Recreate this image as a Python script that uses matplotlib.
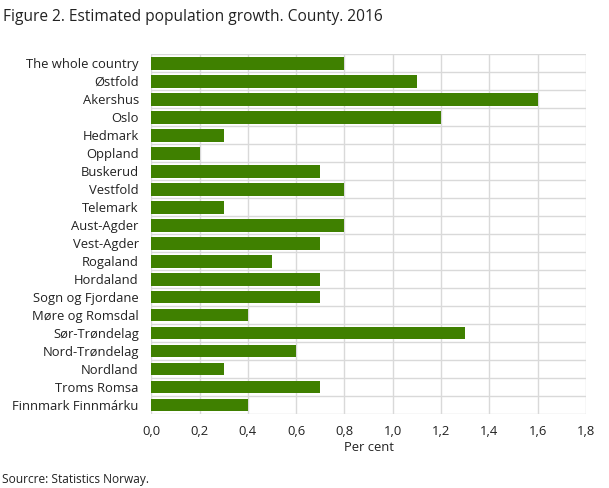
import matplotlib.pyplot as plt
import numpy as np

plt.rcParams['font.family'] = ['Open Sans', 'DejaVu Sans']

counties = ['The whole country', 'Østfold', 'Akershus', 'Oslo', 'Hedmark', 'Oppland',
            'Buskerud', 'Vestfold', 'Telemark', 'Aust-Agder', 'Vest-Agder', 'Rogaland',
            'Hordaland', 'Sogn og Fjordane', 'Møre og Romsdal', 'Sør-Trøndelag',
            'Nord-Trøndelag', 'Nordland', 'Troms Romsa', 'Finnmark Finnmárku']
growth = [0.8, 1.1, 1.6, 1.2, 0.3, 0.2, 0.7, 0.8, 0.3, 0.8, 0.7, 0.5,
          0.7, 0.7, 0.4, 1.3, 0.6, 0.3, 0.7, 0.4]
xticks = [0, 0.2, 0.4, 0.6, 0.8, 1.0, 1.2, 1.4, 1.6, 1.8]

fig = plt.figure(figsize=(6.09, 4.88), dpi=100)
ax = fig.add_axes([0.2484, 0.1516, 0.7138, 0.7377])

y = np.arange(len(counties))
ax.barh(y, growth, height=0.72, color='#3f8000', zorder=3)

ax.set_ylim(len(counties) - 0.5, -0.5)
ax.set_xlim(0, 1.8)
ax.set_yticks(y)
ax.set_yticklabels(counties, fontsize=9.4, color='#222222')
ax.set_yticks(np.arange(-0.5, len(counties), 1), minor=True)
ax.set_xticks(xticks)
ax.set_xticklabels([f'{v:.1f}'.replace('.', ',') for v in xticks], fontsize=9.4, color='#222222')
ax.tick_params(axis='y', which='both', length=0, pad=9)
ax.tick_params(axis='x', length=0, pad=8)

ax.grid(axis='x', color='#d9d9d9', linewidth=1, zorder=0)
ax.grid(axis='y', which='minor', color='#d9d9d9', linewidth=1, zorder=0)
for s in ax.spines.values():
    s.set_visible(False)

ax.set_xlabel('Per cent', fontsize=9.4, color='#222222', labelpad=2)

fig.text(0.005, 0.965, 'Figure 2. Estimated population growth. County. 2016',
         fontsize=11.2, color='#222222', va='center')
fig.text(0.003, 0.017, 'Sourcre: Statistics Norway.', fontsize=8.6, color='#222222', va='center')

fig.savefig('out.png', dpi=100)
